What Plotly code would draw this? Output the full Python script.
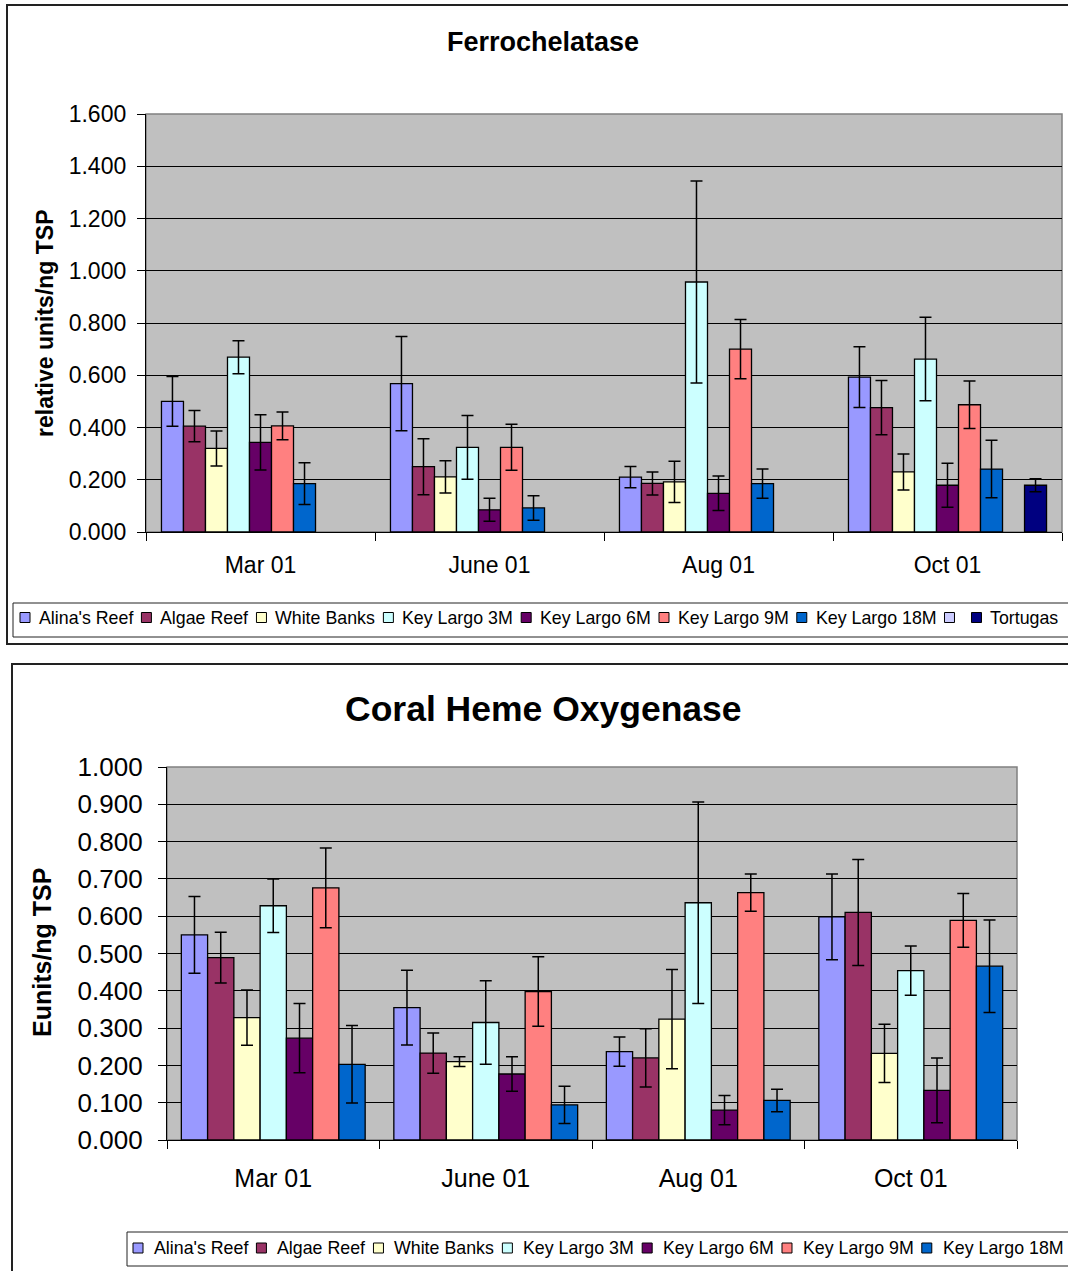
import plotly.graph_objects as go

W, H = 1068, 1271

# ---------------- data ----------------
months = ["Mar 01", "June 01", "Aug 01", "Oct 01"]
series = ["Alina's Reef", "Algae Reef", "White Banks", "Key Largo 3M",
          "Key Largo 6M", "Key Largo 9M", "Key Largo 18M"]
colors = ["#9999FF", "#993366", "#FFFFCC", "#CCFFFF", "#660066", "#FF8080", "#0066CC"]
extra_series = [" ", "Tortugas"]
extra_colors = ["#CCCCFF", "#000080"]

# Ferrochelatase (relative units/ng TSP)
fc_alina = [0.500, 0.568, 0.210, 0.593]
fc_algae = [0.405, 0.250, 0.186, 0.476]
fc_white = [0.320, 0.211, 0.192, 0.230]
fc_kl3 = [0.669, 0.324, 0.957, 0.662]
fc_kl6 = [0.343, 0.085, 0.148, 0.179]
fc_kl9 = [0.406, 0.324, 0.700, 0.487]
fc_kl18 = [0.185, 0.092, 0.185, 0.241]
fc_blank = [None, None, None, None]
fc_tortugas = [None, None, None, 0.179]

fc_alina_err = [0.095, 0.180, 0.041, 0.116]
fc_algae_err = [0.060, 0.107, 0.044, 0.104]
fc_white_err = [0.067, 0.062, 0.079, 0.069]
fc_kl3_err = [0.063, 0.122, 0.387, 0.160]
fc_kl6_err = [0.106, 0.044, 0.066, 0.084]
fc_kl9_err = [0.053, 0.088, 0.113, 0.091]
fc_kl18_err = [0.080, 0.047, 0.056, 0.110]
fc_blank_err = [0, 0, 0, 0]
fc_tortugas_err = [0, 0, 0, 0.025]

# Coral Heme Oxygenase (Eunits/ng TSP)
ho_alina = [0.550, 0.355, 0.237, 0.598]
ho_algae = [0.489, 0.233, 0.220, 0.610]
ho_white = [0.328, 0.210, 0.324, 0.232]
ho_kl3 = [0.628, 0.315, 0.636, 0.454]
ho_kl6 = [0.273, 0.177, 0.080, 0.133]
ho_kl9 = [0.676, 0.398, 0.663, 0.589]
ho_kl18 = [0.203, 0.094, 0.106, 0.466]

ho_alina_err = [0.103, 0.100, 0.039, 0.115]
ho_algae_err = [0.068, 0.054, 0.078, 0.142]
ho_white_err = [0.074, 0.013, 0.133, 0.078]
ho_kl3_err = [0.072, 0.112, 0.270, 0.066]
ho_kl6_err = [0.093, 0.046, 0.039, 0.087]
ho_kl9_err = [0.107, 0.093, 0.050, 0.072]
ho_kl18_err = [0.104, 0.050, 0.030, 0.124]

fc_values = [fc_alina, fc_algae, fc_white, fc_kl3, fc_kl6, fc_kl9, fc_kl18, fc_blank, fc_tortugas]
fc_errors = [fc_alina_err, fc_algae_err, fc_white_err, fc_kl3_err, fc_kl6_err,
             fc_kl9_err, fc_kl18_err, fc_blank_err, fc_tortugas_err]
ho_values = [ho_alina, ho_algae, ho_white, ho_kl3, ho_kl6, ho_kl9, ho_kl18]
ho_errors = [ho_alina_err, ho_algae_err, ho_white_err, ho_kl3_err, ho_kl6_err,
             ho_kl9_err, ho_kl18_err]

FONT = "Liberation Sans, Arial, sans-serif"


def px(x):
    return x / W


def py(y):
    return 1 - y / H


fig = go.Figure()

top_names = series + extra_series
top_colors = colors + extra_colors
for name, col, vals, errs in zip(top_names, top_colors, fc_values, fc_errors):
    fig.add_trace(go.Bar(
        x=months, y=vals, name=name, xaxis="x", yaxis="y",
        marker=dict(color=col, line=dict(color="black", width=1.3)),
        error_y=dict(type="data", array=errs, color="black", thickness=1.5, width=6),
        showlegend=False,
    ))

for name, col, vals, errs in zip(series, colors, ho_values, ho_errors):
    fig.add_trace(go.Bar(
        x=months, y=vals, name=name, xaxis="x2", yaxis="y2",
        marker=dict(color=col, line=dict(color="black", width=1.3)),
        error_y=dict(type="data", array=errs, color="black", thickness=1.5, width=6),
        showlegend=False,
    ))

# ------------- manual legends (Excel style) -------------
AW = {"A": .667, "l": .222, "i": .222, "n": .556, "a": .556, "'": .191, "s": .5,
      " ": .278, "R": .722, "e": .556, "f": .278, "g": .556, "W": .944, "h": .556,
      "t": .278, "B": .667, "k": .5, "K": .667, "y": .5, "L": .556, "r": .333,
      "o": .556, "M": .833, "T": .611, "u": .556}


def tw(s, size):
    return sum(AW.get(ch, 0.556) for ch in s.strip()) * size


shapes = []
annotations = []


def legend(names, cols, x_start, y_mid, fsize, gap_text, gap_next):
    x = x_start
    for nm, c in zip(names, cols):
        shapes.append(dict(type="rect", xref="paper", yref="paper",
                           x0=px(x), x1=px(x + 10), y0=py(y_mid + 5), y1=py(y_mid - 5),
                           fillcolor=c, line=dict(color="black", width=1)))
        x += 10 + gap_text
        if nm.strip():
            annotations.append(dict(text=nm, xref="paper", yref="paper", x=px(x), y=py(y_mid),
                                    xanchor="left", yanchor="middle", showarrow=False,
                                    font=dict(family=FONT, size=fsize, color="black")))
        x += tw(nm, fsize) + gap_next


legend(top_names, top_colors, 20, 617.5, 17.8, 7, 10)
legend(series, colors, 133, 1248, 17.8, 9, 10)

# frames
shapes += [
    dict(type="rect", xref="paper", yref="paper", x0=px(7), x1=px(1085), y0=py(644), y1=py(5),
         line=dict(color="#222222", width=2), layer="below"),
    dict(type="rect", xref="paper", yref="paper", x0=px(13), x1=px(1085), y0=py(637), y1=py(603),
         line=dict(color="#222222", width=1), layer="below"),
    dict(type="rect", xref="paper", yref="paper", x0=px(12), x1=px(1085), y0=py(1290), y1=py(664),
         line=dict(color="#222222", width=2), layer="below"),
    dict(type="rect", xref="paper", yref="paper", x0=px(127), x1=px(1085), y0=py(1266), y1=py(1232),
         line=dict(color="#222222", width=1), layer="below"),
    # plot area borders
    dict(type="rect", xref="paper", yref="paper", x0=px(146), x1=px(1062), y0=py(532), y1=py(114),
         line=dict(color="#808080", width=1.5), layer="below"),
    dict(type="rect", xref="paper", yref="paper", x0=px(167), x1=px(1017), y0=py(1140), y1=py(767),
         line=dict(color="#808080", width=1.5), layer="below"),
]

# titles
annotations += [
    dict(text="<b>Ferrochelatase</b>", xref="paper", yref="paper", x=px(543), y=py(42),
         xanchor="center", yanchor="middle", showarrow=False,
         font=dict(family=FONT, size=27, color="black")),
    dict(text="<b>Coral Heme Oxygenase</b>", xref="paper", yref="paper", x=px(543), y=py(709),
         xanchor="center", yanchor="middle", showarrow=False,
         font=dict(family=FONT, size=35.5, color="black")),
    dict(text="<b>relative units/ng TSP</b>", xref="paper", yref="paper", x=px(45), y=py(323),
         xanchor="center", yanchor="middle", showarrow=False, textangle=-90,
         font=dict(family=FONT, size=23, color="black")),
    dict(text="<b>Eunits/ng TSP</b>", xref="paper", yref="paper", x=px(42), y=py(953),
         xanchor="center", yanchor="middle", showarrow=False, textangle=-90,
         font=dict(family=FONT, size=25, color="black")),
]

xcommon = dict(type="category", tickson="boundaries", ticks="outside", ticklen=8,
               tickcolor="black", showline=True, linecolor="black", linewidth=1.3,
               showgrid=False, zeroline=False, automargin=False)
ycommon = dict(ticks="outside", ticklen=8, tickcolor="black", showline=True,
               linecolor="black", linewidth=1.3, showgrid=True, gridcolor="black",
               gridwidth=1, zeroline=False, tickformat=".3f", automargin=False)

fig.update_layout(
    width=W, height=H,
    autosize=False,
    margin=dict(l=0, r=0, t=0, b=0, pad=0, autoexpand=False),
    paper_bgcolor="white",
    plot_bgcolor="#C0C0C0",
    barmode="group",
    bargap=0.135,
    font=dict(family=FONT, color="black"),
    showlegend=False,
    xaxis=dict(domain=[px(146), px(1062)], anchor="y",
               tickfont=dict(size=23), ticklabelstandoff=12, **xcommon),
    yaxis=dict(domain=[py(532), py(114)], anchor="x", range=[0, 1.6], dtick=0.2,
               tickfont=dict(size=23), ticklabelstandoff=6, **ycommon),
    xaxis2=dict(domain=[px(167), px(1017)], anchor="y2",
                tickfont=dict(size=25), ticklabelstandoff=16, **xcommon),
    yaxis2=dict(domain=[py(1140), py(767)], anchor="x2", range=[0, 1.0], dtick=0.1,
                tickfont=dict(size=26), ticklabelstandoff=10, **ycommon),
    shapes=shapes,
    annotations=annotations,
)

fig.write_html(
    "out.html",
    config={"displayModeBar": False, "responsive": False},
    post_script="document.body.style.margin='0';document.body.style.overflow='hidden';",
)
